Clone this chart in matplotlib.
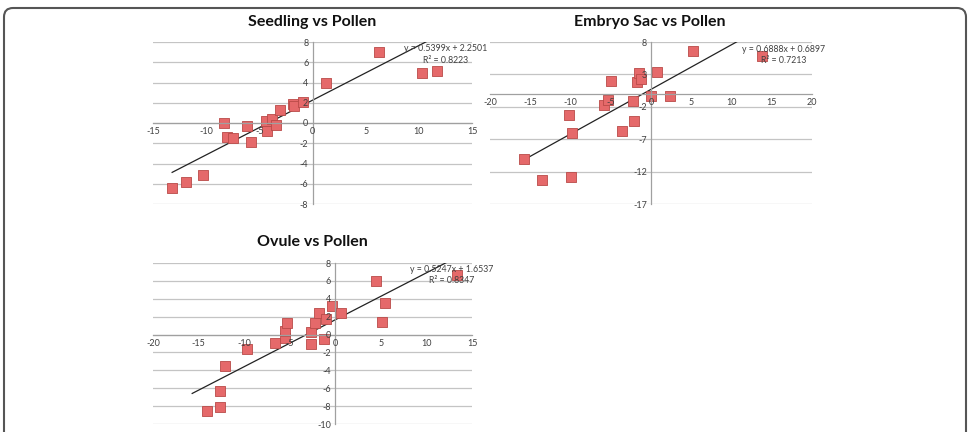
import matplotlib
matplotlib.use("Agg")
import matplotlib.pyplot as plt
from matplotlib.patches import FancyBboxPatch
from matplotlib.transforms import IdentityTransform

plt.rcParams['font.family'] = ['Lato', 'DejaVu Sans']

# ---- data ----
seed_x = [-13.2, -11.9, -10.27, -8.33, -8.07, -7.5, -6.19, -5.78, -4.37, -4.3,
          -3.8, -3.46, -3.05, -1.79, -1.7, -0.94, 1.29, 6.25, 10.3, 11.75]
seed_y = [-6.42, -5.83, -5.17, 0.03, -1.38, -1.51, -0.33, -1.91, 0.16, -0.82,
          0.4, -0.23, 1.25, 1.91, 1.65, 2.04, 3.95, 7.05, 4.94, 5.17]
seed_fit = (0.5399, 2.2501, 0.8223)
seed_line_x = (-13.2, 11.75)

emb_x = [-15.83, -13.55, -10.24, -9.87, -9.99, -5.84, -5.39, -5.02, -3.56, -2.28,
         -2.16, -1.7, -1.45, -1.29, 0.0, 0.7, 2.36, 5.18, 13.76]
emb_y = [-10.1, -13.35, -3.3, -6.03, -12.78, -1.75, -0.88, 1.96, -5.72, -1.03,
         -4.18, 1.75, 3.14, 2.32, -0.41, 3.35, -0.31, 6.6, 5.82]
emb_fit = (0.6888, 0.6897, 0.7213)
emb_line_x = (-15.83, 13.76)

ov_x = [-14.1, -12.7, -12.7, -12.1, -9.7, -6.6, -5.5, -5.5, -5.3, -2.7,
        -2.64, -2.2, -1.8, -1.2, -1.07, -0.37, 0.66, 4.5, 5.15, 5.45, 13.3]
ov_y = [-8.6, -8.15, -6.3, -3.55, -1.58, -0.91, -0.43, 0.39, 1.32, -1.1,
        0.32, 1.28, 2.43, -0.54, 1.69, 3.18, 2.36, 6.03, 1.36, 3.54, 6.66]
ov_fit = (0.5247, 1.6537, 0.8347)
ov_line_x = (-15.7, 13.3)

titles = ["Seedling vs Pollen", "Embryo Sac vs Pollen", "Ovule vs Pollen"]

seed_xticks = [-15, -10, -5, 0, 5, 10, 15]
seed_yticks = [-8, -6, -4, -2, 0, 2, 4, 6, 8]
emb_xticks = [-20, -15, -10, -5, 0, 5, 10, 15, 20]
emb_yticks = [-17, -12, -7, -2, 3, 8]
ov_xticks = [-20, -15, -10, -5, 0, 5, 10, 15]
ov_yticks = [-10, -8, -6, -4, -2, 0, 2, 4, 6, 8]

W, H = 969, 432
fig = plt.figure(figsize=(W / 100, H / 100), dpi=100)

def fr(x0, x1, ytop, ybot):
    return [x0 / W, 1 - ybot / H, (x1 - x0) / W, (ybot - ytop) / H]

GRID = '#C4C4C4'
AXC = '#A0A0A0'
TXT = '#404040'

def panel(rect, xs, ys, fit, line_x, xticks, yticks, eq_pos):
    ax = fig.add_axes(rect)
    ax.set_xlim(xticks[0], xticks[-1])
    ax.set_ylim(yticks[0], yticks[-1])
    ax.set_facecolor('none')
    for s in ['top', 'right']:
        ax.spines[s].set_visible(False)
    ax.spines['left'].set_position(('data', 0))
    ax.spines['bottom'].set_position(('data', 0))
    ax.spines['left'].set_color(AXC)
    ax.spines['bottom'].set_color(AXC)
    ax.spines['left'].set_linewidth(0.9)
    ax.spines['bottom'].set_linewidth(0.9)
    ax.set_xticks(xticks)
    ax.set_yticks(yticks)
    ax.set_xticklabels([str(t) for t in xticks])
    ax.set_yticklabels([str(t) for t in yticks])
    ax.tick_params(length=0, labelsize=6.5, labelcolor=TXT, pad=3)
    ax.grid(False)
    for t in yticks:
        ax.axhline(t, color=GRID, lw=0.9, zorder=0.5)
    ax.set_axisbelow(False)
    m, b, r2 = fit
    lx = list(line_x)
    ly = [m * v + b for v in lx]
    ax.plot(lx, ly, color='#222222', lw=0.9, zorder=1.9)
    ax.scatter(xs, ys, marker='s', s=60, facecolor='#E5696A',
               edgecolor='#B94A48', linewidths=0.6, zorder=2, clip_on=False)
    ex, ey1, ey2 = eq_pos
    ax.text(ex, ey1, f"y = {m}x + {b}", fontsize=6.3, color=TXT,
            ha='center', va='center', clip_on=False, zorder=4)
    ax.text(ex, ey2, f"R² = {r2}", fontsize=6.3, color=TXT,
            ha='center', va='center', clip_on=False, zorder=4)
    return ax

panel(fr(153, 472, 42, 204), seed_x, seed_y, seed_fit, seed_line_x,
      seed_xticks, seed_yticks, (12.5, 7.4, 6.2))
panel(fr(490, 812, 42, 204), emb_x, emb_y, emb_fit, emb_line_x,
      emb_xticks, emb_yticks, (16.5, 6.9, 5.2))
panel(fr(153, 472, 263, 424), ov_x, ov_y, ov_fit, ov_line_x,
      ov_xticks, ov_yticks, (12.8, 7.3, 6.0))

fig.text(312.5 / W, 1 - 22 / H, titles[0], fontsize=11.5, fontweight='bold',
         ha='center', va='center', color='#111111')
fig.text(650 / W, 1 - 22 / H, titles[1], fontsize=11.5, fontweight='bold',
         ha='center', va='center', color='#111111')
fig.text(312.5 / W, 1 - 242 / H, titles[2], fontsize=11.5, fontweight='bold',
         ha='center', va='center', color='#111111')

border = FancyBboxPatch((4, -30), 962, H - 4 - 4 + 30,
                        boxstyle="round,pad=0,rounding_size=9",
                        transform=IdentityTransform(), fill=False,
                        edgecolor='#555555', lw=1.5)
fig.patches.append(border)

fig.savefig("out.png", dpi=100)
